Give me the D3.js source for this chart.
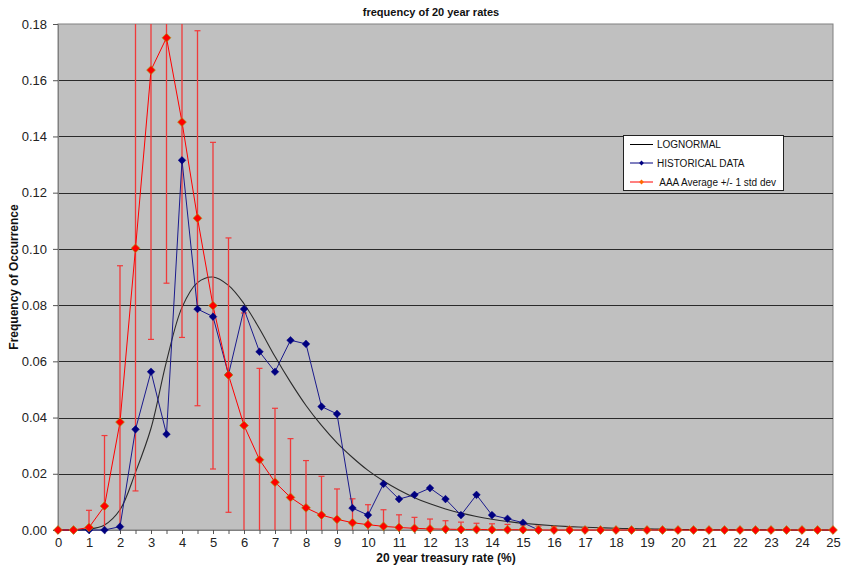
<!DOCTYPE html>
<html>
<head>
<meta charset="utf-8">
<script src="https://cdn.jsdelivr.net/npm/d3@7"></script>
<style>
  html, body { margin: 0; padding: 0; background: #fff; }
  svg { display: block; font-family: "Liberation Sans", Arial, sans-serif; }
</style>
</head>
<body>
<svg id="chart" width="842" height="566"></svg>
<script>
// ---------- DATA ----------
const rates = [0,0.5,1,1.5,2,2.5,3,3.5,4,4.5,5,5.5,6,6.5,7,7.5,8,8.5,9,9.5,10,10.5,11,11.5,12,12.5,
  13,13.5,14,14.5,15,15.5,16,16.5,17,17.5,18,18.5,19,19.5,20,20.5,21,21.5,22,22.5,23,23.5,24,24.5,25];

const xTickLabels = [0,1,2,3,4,5,6,7,8,9,10,11,12,13,14,15,16,17,18,19,20,21,22,23,24,25];
const yTickLabels = [0,0.02,0.04,0.06,0.08,0.10,0.12,0.14,0.16,0.18];

// LOGNORMAL curve
const lognormal = [0,0,0.0003,0.0018,0.0072,0.0205,0.0362,0.0600,0.0792,0.0880,0.0900,0.0870,0.0805,0.0716,
  0.0617,0.0526,0.0443,0.0372,0.0310,0.0258,0.0212,0.0174,0.0142,0.0115,0.0093,0.0075,
  0.0060,0.0048,0.0038,0.0030,0.0024,0.0019,0.0015,0.0012,0.0010,0.0008,0.0006,0.0005,0.0004,0.0003,
  0.0002,0.0002,0.0001,0.0001,0.0001,0.0001,0.0001,0.0000,0.0000,0.0000,0.0000];

// HISTORICAL DATA (0 .. 15.5)
const historical = [0,0,0,0,0.0012,0.0358,0.0563,0.0341,0.1315,0.0786,0.0759,0.0553,0.0786,0.0634,
  0.0563,0.0675,0.0662,0.0439,0.0413,0.0078,0.0053,0.0164,0.0110,0.0125,0.0149,0.0110,
  0.0053,0.0125,0.0053,0.0040,0.0026,0];

// AAA Average and +/- 1 std dev
const aaaAverage = [0,0,0.0009,0.0085,0.0384,0.1002,0.1636,0.1751,0.1451,0.1109,0.0798,0.0551,0.0372,0.0250,
  0.0170,0.0116,0.0079,0.0053,0.0038,0.0026,0.0019,0.0013,0.0009,0.0006,0.0004,0.0003,
  0.0002,0.0002,0.0001,0.0001,0.0001,0,0,0,0,0,0,0,0,0,0,0,0,0,0,0,0,0,0,0,0];
const aaaStdDev = [0,0,0.0061,0.0251,0.0556,0.0863,0.0958,0.0873,0.0766,0.0667,0.0581,0.0488,0.0400,0.0325,
  0.0263,0.0209,0.0168,0.0138,0.0108,0.0085,0.0071,0.0059,0.0045,0.0039,0.0035,0.0030,
  0.0026,0.0022,0.0021,0.0019,0.0017,0.0014,0.0012,0.0010,0.0008,0.0007,0.0005,0.0004,0.0003,0.0002,
  0.0002,0.0001,0.0001,0.0001,0.0001,0.0001,0.0001,0.0001,0.0001,0.0001,0.0001];

const seriesNames = ["LOGNORMAL", "HISTORICAL DATA", " AAA Average +/- 1 std dev"];

// ---------- LAYOUT ----------
const svg = d3.select("#chart");
const plot = { left: 58, right: 833, top: 24, bottom: 530 };
const x = d3.scaleLinear().domain([0, 25]).range([plot.left, plot.right]);
const y = d3.scaleLinear().domain([0, 0.18]).range([plot.bottom, plot.top]);

const diamond = r => `M0,${-r}L${r},0L0,${r}L${-r},0Z`;

// plot background
svg.append("rect")
  .attr("x", plot.left).attr("y", plot.top)
  .attr("width", plot.right - plot.left).attr("height", plot.bottom - plot.top)
  .attr("fill", "#c0c0c0").attr("stroke", "#808080").attr("stroke-width", 1);

// gridlines
svg.append("g").selectAll("line")
  .data(yTickLabels.filter(v => v > 0 && v < 0.18))
  .join("line")
  .attr("x1", plot.left).attr("x2", plot.right)
  .attr("y1", d => Math.round(y(d)) + 0.5).attr("y2", d => Math.round(y(d)) + 0.5)
  .attr("stroke", "#2a2a2a").attr("stroke-width", 1);

// Y axis
const yAxis = d3.axisLeft(y).tickValues(yTickLabels).tickFormat(d3.format(".2f")).tickSize(5).tickPadding(6);
const gy = svg.append("g").attr("transform", `translate(${plot.left},0)`).call(yAxis);
gy.select(".domain").attr("stroke", "#808080");
gy.selectAll(".tick line").attr("stroke", "#555");
gy.selectAll("text").attr("font-size", 13).attr("fill", "#222")
  .attr("font-family", "Liberation Sans, Arial, sans-serif");

// X axis: ticks every 0.5, labels on integers
const xAxis = d3.axisBottom(x).tickValues(rates).tickSize(4).tickPadding(4)
  .tickFormat(d => xTickLabels.includes(d) ? d : "");
const gx = svg.append("g").attr("transform", `translate(0,${plot.bottom})`).call(xAxis);
gx.select(".domain").attr("stroke", "#808080");
gx.selectAll(".tick line").attr("stroke", "#555");
gx.selectAll("text").attr("font-size", 13).attr("fill", "#222")
  .attr("font-family", "Liberation Sans, Arial, sans-serif");

// titles
svg.append("text").attr("x", 431).attr("y", 16).attr("text-anchor", "middle")
  .attr("font-size", 11).attr("font-weight", "bold").attr("fill", "#111")
  .text("frequency of 20 year rates");
svg.append("text").attr("x", 446).attr("y", 562).attr("text-anchor", "middle")
  .attr("font-size", 12).attr("font-weight", "bold").attr("fill", "#111")
  .text("20 year treasury rate (%)");
svg.append("text").attr("transform", "translate(18,277) rotate(-90)").attr("text-anchor", "middle")
  .attr("font-size", 12).attr("font-weight", "bold").attr("fill", "#111")
  .text("Frequency of Occurrence");

// LOGNORMAL curve
const lnData = rates.map((r, i) => [r, lognormal[i]]);
svg.append("path").datum(lnData)
  .attr("fill", "none").attr("stroke", "#2b2b2b").attr("stroke-width", 1.1)
  .attr("d", d3.line().x(d => x(d[0])).y(d => y(d[1])).curve(d3.curveCatmullRom.alpha(0.5)));

// Error bars for AAA
const ebColor = "#f03a3a";
const eb = svg.append("g");
const ebData = rates.map((r, i) => ({ r, m: aaaAverage[i], s: aaaStdDev[i] })).filter(d => d.s > 0);
ebData.forEach(d => {
  const hi = d.m + d.s, lo = d.m - d.s;
  const yHi = y(Math.min(hi, 0.18)), yLo = y(Math.max(lo, 0));
  const cx = x(d.r);
  eb.append("line").attr("x1", cx).attr("x2", cx).attr("y1", yHi).attr("y2", yLo)
    .attr("stroke", ebColor).attr("stroke-width", 1.3);
  if (hi <= 0.18) eb.append("line").attr("x1", cx - 3).attr("x2", cx + 3).attr("y1", y(hi)).attr("y2", y(hi))
    .attr("stroke", ebColor).attr("stroke-width", 1.2);
  if (lo >= 0) eb.append("line").attr("x1", cx - 3).attr("x2", cx + 3).attr("y1", y(lo)).attr("y2", y(lo))
    .attr("stroke", ebColor).attr("stroke-width", 1.2);
});

// HISTORICAL line
const histData = historical.map((v, i) => [rates[i], v]);
svg.append("path").datum(histData)
  .attr("fill", "none").attr("stroke", "#1a1a8c").attr("stroke-width", 1)
  .attr("d", d3.line().x(d => x(d[0])).y(d => y(d[1])));

// AAA line
const aaaData = aaaAverage.map((v, i) => [rates[i], v]);
svg.append("path").datum(aaaData)
  .attr("fill", "none").attr("stroke", "#ff0000").attr("stroke-width", 1)
  .attr("d", d3.line().x(d => x(d[0])).y(d => y(d[1])));

// markers
svg.append("g").selectAll("path").data(histData).join("path")
  .attr("transform", d => `translate(${x(d[0])},${y(d[1])})`)
  .attr("d", diamond(3.8)).attr("fill", "#000080").attr("stroke", "#000080").attr("stroke-width", 0.5);
svg.append("g").selectAll("path").data(aaaData).join("path")
  .attr("transform", d => `translate(${x(d[0])},${y(d[1])})`)
  .attr("d", diamond(4.4)).attr("fill", "#ff0000").attr("stroke", "#a89a10").attr("stroke-width", 0.7);

// Legend
const lg = svg.append("g");
lg.append("rect").attr("x", 623.5).attr("y", 135.5).attr("width", 160).attr("height", 55)
  .attr("fill", "#fff").attr("stroke", "#222").attr("stroke-width", 1);
const legendRows = [
  { name: seriesNames[0], color: "#000", marker: null, y: 144.5 },
  { name: seriesNames[1], color: "#000080", marker: "#000080", y: 163 },
  { name: seriesNames[2], color: "#ff0000", marker: "#ff6a00", y: 182 }
];
legendRows.forEach(r => {
  lg.append("line").attr("x1", 630).attr("x2", 653).attr("y1", r.y).attr("y2", r.y)
    .attr("stroke", r.color).attr("stroke-width", 1);
  if (r.marker) lg.append("path").attr("transform", `translate(641.5,${r.y})`)
    .attr("d", diamond(2.4)).attr("fill", r.marker);
  lg.append("text").attr("x", 657).attr("y", r.y + 3.5)
    .attr("font-size", 10).attr("fill", "#111").attr("xml:space", "preserve")
    .style("white-space", "pre").text(r.name);
});
</script>
</body>
</html>
